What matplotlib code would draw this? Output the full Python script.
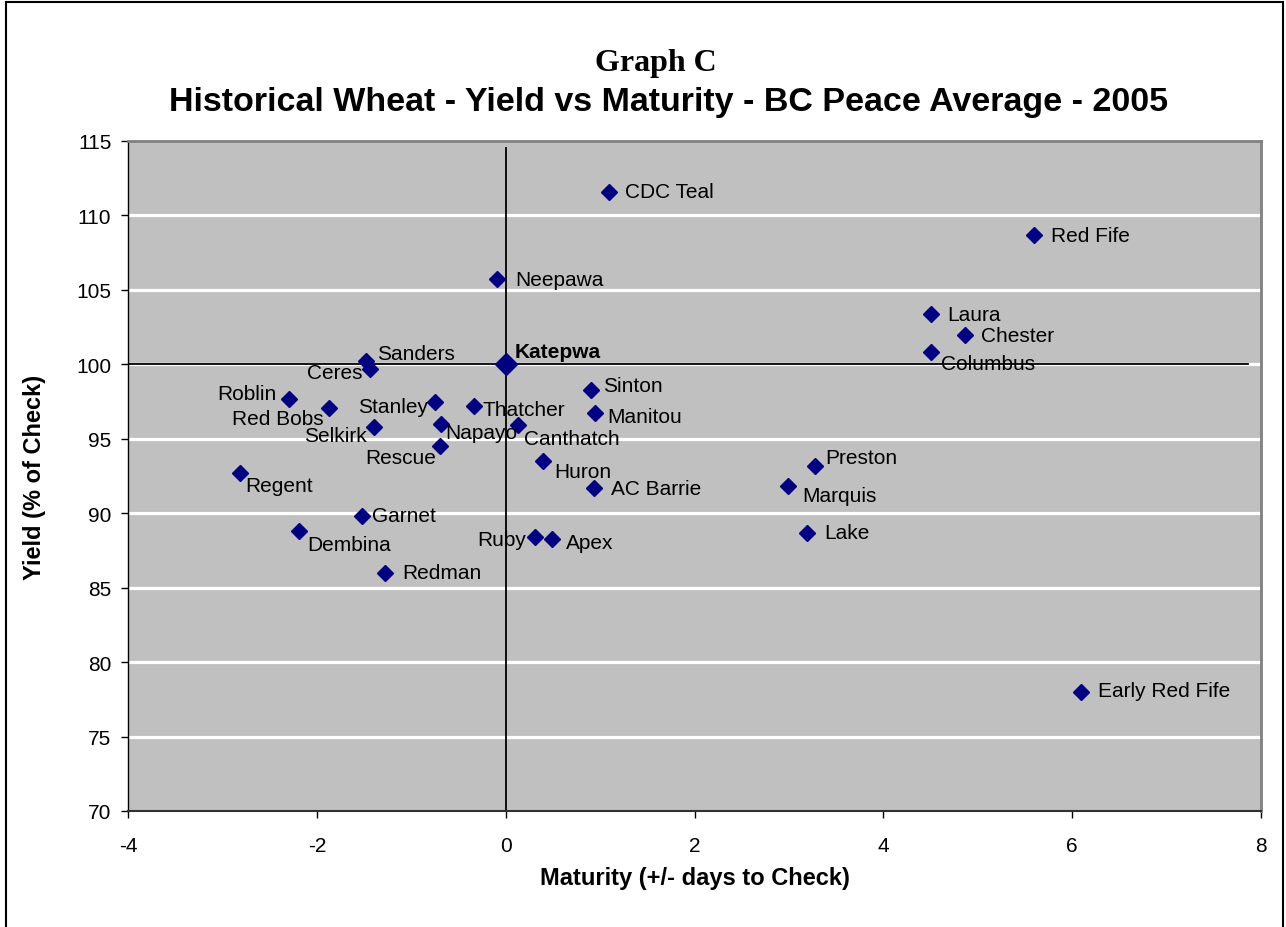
import matplotlib
matplotlib.use("Agg")
import matplotlib.pyplot as plt
from matplotlib.patches import Rectangle

# Variety names with maturity (+/- days to check) and yield (% of check)
varieties = [
    "CDC Teal", "Red Fife", "Neepawa", "Laura", "Chester", "Columbus",
    "Katepwa", "Sanders", "Ceres", "Roblin", "Red Bobs", "Stanley",
    "Thatcher", "Selkirk", "Napayo", "Canthatch", "Rescue", "Regent",
    "Huron", "Sinton", "Manitou", "AC Barrie", "Preston", "Marquis",
    "Lake", "Garnet", "Dembina", "Ruby", "Apex", "Redman", "Early Red Fife",
]
maturity = [
    1.09, 5.60, -0.09, 4.51, 4.87, 4.50,
    0.00, -1.48, -1.44, -2.29, -1.87, -0.75,
    -0.34, -1.39, -0.69, 0.13, -0.70, -2.81,
    0.40, 0.90, 0.95, 0.94, 3.28, 2.99,
    3.19, -1.52, -2.19, 0.31, 0.49, -1.28, 6.09,
]
yield_pct = [
    111.6, 108.7, 105.7, 103.4, 102.0, 100.8,
    100.0, 100.2, 99.7, 97.7, 97.1, 97.5,
    97.2, 95.8, 96.0, 95.9, 94.5, 92.7,
    93.5, 98.3, 96.7, 91.7, 93.2, 91.8,
    88.7, 89.8, 88.8, 88.4, 88.3, 86.0, 78.0,
]

check_variety = "Katepwa"
check_maturity = 0.0
check_yield = 100.0
vline_top = 114.5
hline_right = 7.86

x_ticks = [-4, -2, 0, 2, 4, 6, 8]
y_ticks = [70, 75, 80, 85, 90, 95, 100, 105, 110, 115]

# Label placement: (dx, dy) in pixels (dy positive downward), alignment
label_pos = {
    "CDC Teal": (16, 0, "left"), "Red Fife": (17, 1, "left"),
    "Neepawa": (18, 0, "left"), "Laura": (16, 1, "left"),
    "Chester": (16, 1, "left"), "Columbus": (10, 11, "left"),
    "Katepwa": (9, -13, "left"), "Sanders": (11, -8, "left"),
    "Ceres": (-7, 4, "right"), "Roblin": (-13, -5, "right"),
    "Red Bobs": (-5, 11, "right"), "Stanley": (-7, 5, "right"),
    "Thatcher": (9, 3, "left"), "Selkirk": (-8, 9, "right"),
    "Napayo": (5, 9, "left"), "Canthatch": (6, 13, "left"),
    "Rescue": (-3, 11, "right"), "Regent": (5, 12, "left"),
    "Huron": (11, 10, "left"), "Sinton": (12, -4, "left"),
    "Manitou": (12, 3, "left"), "AC Barrie": (17, 1, "left"),
    "Preston": (10, -8, "left"), "Marquis": (14, 9, "left"),
    "Lake": (17, 0, "left"), "Garnet": (10, -1, "left"),
    "Dembina": (8, 13, "left"), "Ruby": (-9, 2, "right"),
    "Apex": (14, 4, "left"), "Redman": (17, 0, "left"),
    "Early Red Fife": (17, -1, "left"),
}

DPI = 100
PT = 72.0 / DPI
plt.rcParams["font.family"] = ["Liberation Sans", "DejaVu Sans"]

fig = plt.figure(figsize=(12.86, 9.28), dpi=DPI)
ax = fig.add_axes([128 / 1286, 1 - 812 / 928, (1261 - 128) / 1286, (812 - 142) / 928])

# Outer chart frame
fig.patches.append(Rectangle((6 / 1286, -0.05), (1283 - 6) / 1286, 1.05 - 3 / 928,
                             transform=fig.transFigure, fill=False,
                             edgecolor="black", linewidth=1.5))

ax.set_facecolor("#C0C0C0")
ax.set_xlim(-4, 8)
ax.set_ylim(70, 115)
ax.set_xticks(x_ticks)
ax.set_yticks(y_ticks)
ax.set_xticklabels([str(t) for t in x_ticks])
ax.set_yticklabels([str(t) for t in y_ticks])
ax.tick_params(axis="both", direction="out", length=5, width=1, labelsize=15,
               color="black")
ax.tick_params(axis="x", pad=13)
ax.tick_params(axis="y", pad=7)

for y in y_ticks[1:-1]:
    ax.axhline(y, color="white", linewidth=2.3, zorder=1)

for side in ("top", "right"):
    ax.spines[side].set_color("#808080")
    ax.spines[side].set_linewidth(2.0)
ax.spines["left"].set_color("black")
ax.spines["bottom"].set_color("#303030")
ax.spines["left"].set_linewidth(1.0)
ax.spines["bottom"].set_linewidth(1.5)

# Check-variety reference lines
ax.plot([check_maturity, check_maturity], [70, vline_top], color="black",
        linewidth=1.3, zorder=2)
ax.plot([-4, hline_right], [check_yield, check_yield], color="black",
        linewidth=1.3, zorder=2)

for name, x, y in zip(varieties, maturity, yield_pct):
    is_check = name == check_variety
    ax.plot(x, y, marker="D", color="#000080", markersize=11.5 if is_check else 8,
            linestyle="none", zorder=4)
    dx, dy, ha = label_pos[name]
    ax.annotate(name, (x, y), xytext=(dx * PT, -dy * PT), textcoords="offset points",
                ha=ha, va="center", fontsize=15,
                fontweight="bold" if is_check else "normal", zorder=5)

ax.set_xlabel("Maturity (+/- days to Check)", fontsize=17, fontweight="bold",
              labelpad=8)
ax.set_ylabel("Yield (% of Check)", fontsize=17, fontweight="bold", labelpad=22)

fig.text(656 / 1286, 1 - 63 / 928, "Graph C", ha="center", va="center",
         fontsize=23, fontweight="bold", family=["Liberation Serif", "DejaVu Serif"])
fig.text(669 / 1286, 1 - 102 / 928,
         "Historical Wheat - Yield vs Maturity - BC Peace Average - 2005",
         ha="center", va="center", fontsize=24.5, fontweight="bold")

fig.savefig("out.png", dpi=DPI)
